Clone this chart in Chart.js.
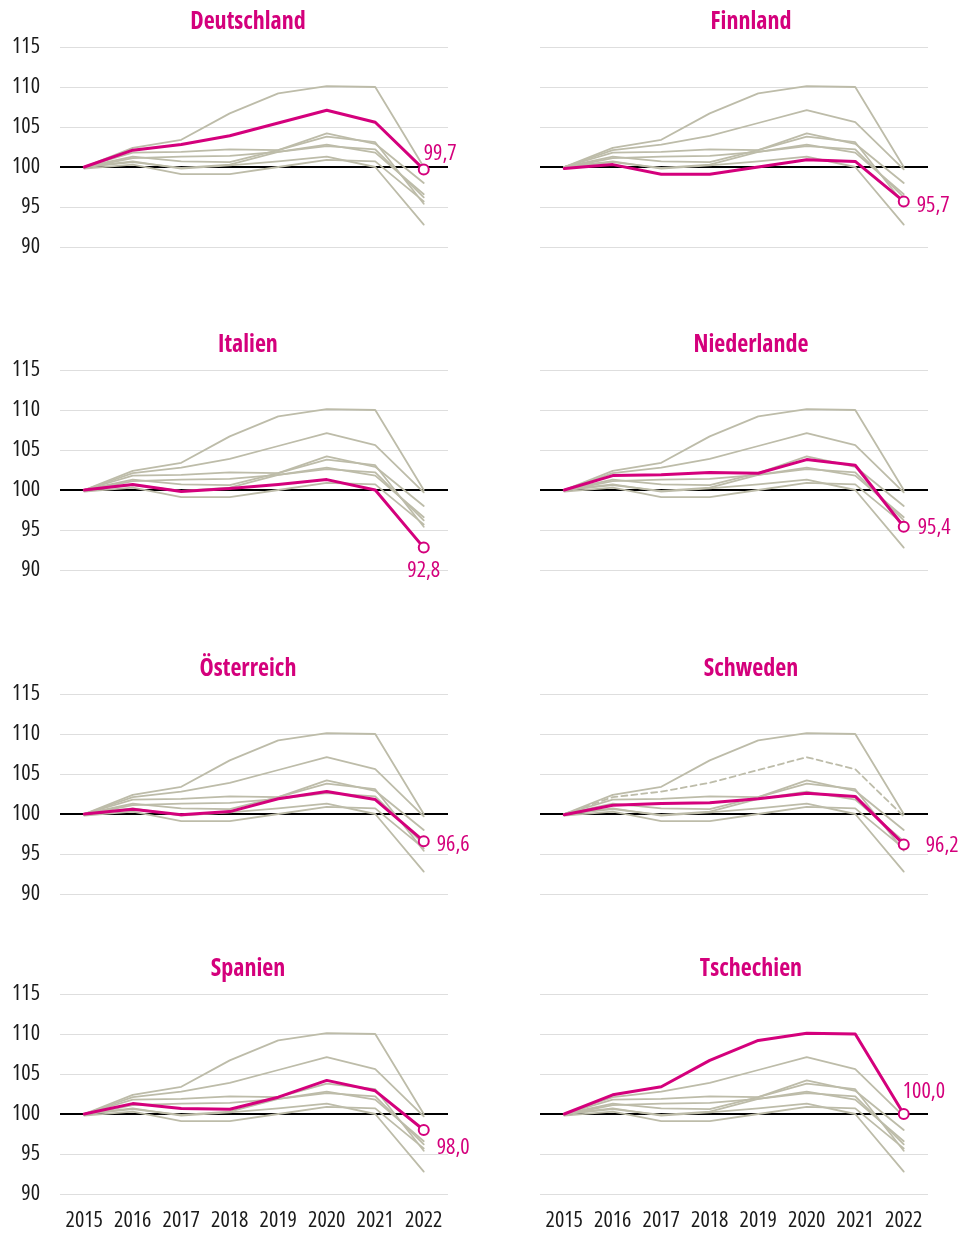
<!DOCTYPE html>
<html lang="de">
<head>
<meta charset="utf-8">
<title>Index 2015 = 100</title>
<script src="https://cdn.jsdelivr.net/npm/chart.js@4.4.1/dist/chart.umd.min.js"></script>
<style>
  html, body { margin: 0; padding: 0; background: #fff; }
  #wrap { position: relative; width: 960px; height: 1234px; overflow: hidden; }
  #wrap canvas { position: absolute; }
</style>
</head>
<body>
<div id="wrap"></div>
<script>
// --- DATA ---
const years = ['2015', '2016', '2017', '2018', '2019', '2020', '2021', '2022'];
const yTicks = [90, 95, 100, 105, 110, 115];

const countries = ['Deutschland', 'Finnland', 'Italien', 'Niederlande', 'Österreich', 'Schweden', 'Spanien', 'Tschechien'];

const deutschland = [100, 102.1, 102.8, 103.9, 105.5, 107.1, 105.6, 99.7];
const finnland    = [99.8, 100.3, 99.1, 99.1, 100.0, 100.9, 100.7, 95.7];
const italien     = [100, 100.7, 99.8, 100.2, 100.7, 101.3, 100.0, 92.8];
const niederlande = [100, 101.8, 101.9, 102.2, 102.1, 103.8, 103.1, 95.4];
const oesterreich = [100, 100.6, 99.9, 100.3, 101.9, 102.8, 101.8, 96.6];
const schweden    = [99.9, 101.1, 101.3, 101.4, 101.9, 102.6, 102.2, 96.2];
const spanien     = [100, 101.3, 100.7, 100.6, 102.1, 104.2, 102.9, 98.0];
const tschechien  = [100, 102.4, 103.4, 106.7, 109.2, 110.1, 110.0, 100.0];

const series = [deutschland, finnland, italien, niederlande, oesterreich, schweden, spanien, tschechien];
const endLabels = ['99,7', '95,7', '92,8', '95,4', '96,6', '96,2', '98,0', '100,0'];

// --- LAYOUT / STYLE ---
const MAGENTA = '#d4007c';
const GREY = '#bdbca9';
const rowTops = [47, 370, 694, 994];
const PANEL_W = 480, PANEL_H = 287, PAD_TOP = 47;

// no narrow web font here, so look for an installed family that has a condensed face
function pickCondensed() {
  const c = document.createElement('canvas').getContext('2d');
  const cands = ['Open Sans', 'Noto Sans', 'DejaVu Sans', 'Roboto', 'Inter', 'Liberation Sans'];
  for (const f of cands) {
    c.font = '20px "' + f + '"';
    const w1 = c.measureText('2015 2016 Deutschland').width;
    c.font = 'condensed 20px "' + f + '"';
    const w2 = c.measureText('2015 2016 Deutschland').width;
    if (w2 < w1 * 0.93) return f;
  }
  return null;
}
const condFamily = pickCondensed();
const FONT = condFamily ? '"' + condFamily + '", sans-serif' : '"Liberation Sans", sans-serif';
const STRETCH = condFamily ? 'condensed' : '';
const TICK_SIZE = condFamily ? 22 : 18;

// where the end value sits relative to the last point
const labelPos = [
  { dx: 0,  dy: -16, align: 'left' },
  { dx: 13, dy: 4,   align: 'left' },
  { dx: 0,  dy: 23,  align: 'center' },
  { dx: 14, dy: 1,   align: 'left' },
  { dx: 13, dy: 4,   align: 'left' },
  { dx: 22, dy: 1,   align: 'left' },
  { dx: 13, dy: 18,  align: 'left' },
  { dx: -1, dy: -22, align: 'left' }
];

const panelTitle = {
  id: 'panelTitle',
  afterDraw(chart, args, opts) {
    const { ctx, chartArea } = chart;
    ctx.save();
    ctx.font = 'bold ' + STRETCH + ' 24px ' + FONT;
    ctx.fillStyle = MAGENTA;
    ctx.textAlign = 'center';
    ctx.textBaseline = 'middle';
    ctx.fillText(opts.text, opts.x, chartArea.top - 25);
    ctx.restore();
  }
};

const endValue = {
  id: 'endValue',
  afterDatasetsDraw(chart, args, opts) {
    const meta = chart.getDatasetMeta(0);
    const pt = meta.data[meta.data.length - 1];
    const { ctx } = chart;
    ctx.save();
    ctx.font = STRETCH + ' 22px ' + FONT;
    ctx.fillStyle = MAGENTA;
    ctx.textAlign = opts.align;
    ctx.textBaseline = 'middle';
    ctx.fillText(opts.text, pt.x + opts.dx, pt.y + opts.dy);
    ctx.restore();
  }
};

const tickFont = { family: FONT, size: TICK_SIZE, weight: STRETCH || undefined };

const wrap = document.getElementById('wrap');

countries.forEach((name, idx) => {
  const col = idx % 2, row = Math.floor(idx / 2);
  const isLeft = col === 0, isBottom = row === 3;

  const canvas = document.createElement('canvas');
  canvas.width = PANEL_W;
  canvas.height = PANEL_H;
  canvas.style.left = (col * PANEL_W) + 'px';
  canvas.style.top = (rowTops[row] - PAD_TOP) + 'px';
  wrap.appendChild(canvas);

  // highlighted first so it ends up on top
  const datasets = [{
    data: series[idx],
    borderColor: MAGENTA,
    borderWidth: 3,
    pointRadius: c => c.dataIndex === years.length - 1 ? 5 : 0,
    pointBackgroundColor: '#fff',
    pointBorderColor: MAGENTA,
    pointBorderWidth: 2,
    order: 0
  }];
  series.forEach((s, j) => {
    if (j === idx) return;
    datasets.push({
      data: s,
      borderColor: GREY,
      borderWidth: 1.8,
      // the Swedish panel shows Germany dashed
      borderDash: (name === 'Schweden' && j === 0) ? [6, 4] : [],
      pointRadius: 0,
      order: 1
    });
  });

  new Chart(canvas, {
    type: 'line',
    data: { labels: years, datasets },
    plugins: [panelTitle, endValue],
    options: {
      responsive: false,
      animation: false,
      layout: { padding: { top: PAD_TOP, right: 32, left: 0, bottom: 0 } },
      elements: { line: { tension: 0, borderCapStyle: 'round', borderJoinStyle: 'round' } },
      plugins: {
        legend: { display: false },
        tooltip: { enabled: false },
        panelTitle: { text: name, x: isLeft ? 248 : 271 },
        endValue: { text: endLabels[idx], ...labelPos[idx] }
      },
      scales: {
        x: {
          offset: true,
          grid: { display: false },
          border: { display: false },
          ticks: {
            display: isBottom,
            autoSkip: false,
            color: '#1a1a1a',
            font: tickFont,
            padding: 6,
            maxRotation: 0
          },
          afterFit: s => { s.height = 40; }
        },
        y: {
          min: yTicks[0],
          max: yTicks[yTicks.length - 1],
          afterBuildTicks: s => { s.ticks = yTicks.map(v => ({ value: v })); },
          border: { display: false },
          grid: {
            drawTicks: false,
            color: c => c.tick.value === 100 ? '#000' : '#dedede',
            lineWidth: c => c.tick.value === 100 ? 2 : 1
          },
          ticks: {
            display: isLeft,
            color: '#1a1a1a',
            font: tickFont,
            padding: 20
          },
          afterFit: s => { s.width = 60; }
        }
      }
    }
  });
});
</script>
</body>
</html>
